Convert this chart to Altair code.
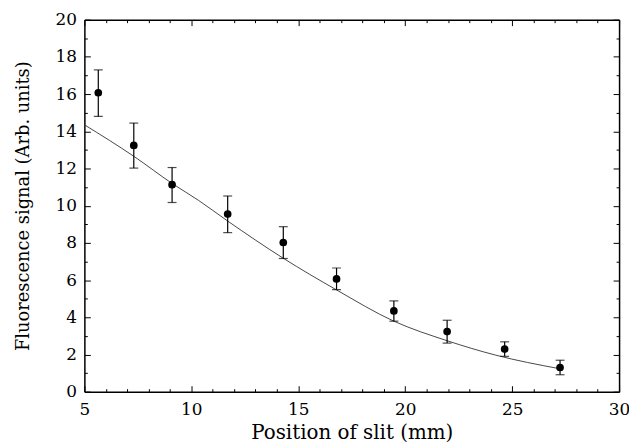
import altair as alt
import pandas as pd

# measured points (position of slit, mm) and signal with error-bar extents
pos = [5.65, 7.31, 9.10, 11.70, 14.30, 16.79, 19.47, 21.96, 24.65, 27.24]
sig = [16.07, 13.24, 11.13, 9.55, 8.02, 6.06, 4.34, 3.23, 2.29, 1.30]
err_hi = [17.30, 14.44, 12.05, 10.52, 8.87, 6.65, 4.88, 3.84, 2.68, 1.69]
err_lo = [14.80, 12.02, 10.17, 8.55, 7.16, 5.49, 3.79, 2.61, 1.90, 0.91]

# fitted curve
fit_pos = [5.0, 7.33, 9.12, 10.33, 11.68, 14.29, 16.79, 19.47, 21.96, 24.21, 27.24]
fit_sig = [14.35, 12.64, 11.18, 10.29, 9.19, 7.18, 5.47, 3.79, 2.74, 1.97, 1.23]

x_major = [5, 10, 15, 20, 25, 30]
x_all = list(range(5, 31))
y_major = [0, 2, 4, 6, 8, 10, 12, 14, 16, 18, 20]
y_all = list(range(0, 21))

pts = pd.DataFrame({"p": pos, "s": sig, "hi": err_hi, "lo": err_lo})
fit = pd.DataFrame({"p": fit_pos, "s": fit_sig})

FONT = "DejaVu Serif"
W, H = 539, 375
xsc = alt.Scale(domain=[5, 30], nice=False, zero=False)
ysc = alt.Scale(domain=[0, 20], nice=False, zero=False)

x_tick = {"condition": {"test": "datum.value % 5 === 0", "value": 6}, "value": 3}
y_tick = {"condition": {"test": "datum.value % 2 === 0", "value": 6}, "value": 3}

ax_x_main = alt.Axis(orient="bottom", values=x_major, tickSize=0, labelFont=FONT,
                     labelFontSize=17, labelColor="black", labelPadding=10,
                     labelFlush=False, title="Position of slit (mm)", titleFont=FONT,
                     titleFontSize=20, titleFontWeight="normal", titleColor="black",
                     titlePadding=5, domainColor="black", domainWidth=1.5, grid=False)
ax_y_main = alt.Axis(orient="left", values=y_major, tickSize=0, labelFont=FONT,
                     labelFontSize=17, labelColor="black", labelPadding=8,
                     labelFlush=False, title="Fluorescence signal (Arb. units)",
                     titleFont=FONT, titleFontSize=18, titleFontWeight="normal",
                     titleColor="black", titlePadding=23, domainColor="black",
                     domainWidth=1.5, grid=False)
ax_x_in_bottom = alt.Axis(orient="top", offset=-H, values=x_all, tickSize=x_tick,
                          tickColor="black", tickWidth=1, labels=False, domain=False,
                          title="", grid=False)
ax_x_in_top = alt.Axis(orient="bottom", offset=-H, values=x_all, tickSize=x_tick,
                       tickColor="black", tickWidth=1, labels=False, domain=True,
                       domainColor="black", domainWidth=1.5, title="", grid=False)
ax_y_in_left = alt.Axis(orient="right", offset=-W, values=y_all, tickSize=y_tick,
                        tickColor="black", tickWidth=1, labels=False, domain=False,
                        title="", grid=False)
ax_y_in_right = alt.Axis(orient="left", offset=-W, values=y_all, tickSize=y_tick,
                         tickColor="black", tickWidth=1, labels=False, domain=True,
                         domainColor="black", domainWidth=1.5, title="", grid=False)

line = alt.Chart(fit).mark_line(color="#333333", strokeWidth=0.9,
                                interpolate="monotone").encode(
    x=alt.X("p:Q", scale=xsc, axis=ax_x_main),
    y=alt.Y("s:Q", scale=ysc, axis=ax_y_main),
)
bars = alt.Chart(pts).mark_rule(color="black", strokeWidth=1.2).encode(
    x=alt.X("p:Q", scale=xsc, axis=ax_x_in_bottom),
    y=alt.Y("lo:Q", scale=ysc, axis=ax_y_in_left),
    y2="hi:Q",
)
dots = alt.Chart(pts).mark_circle(color="black", opacity=1, size=60).encode(
    x=alt.X("p:Q", scale=xsc, axis=ax_x_in_top),
    y=alt.Y("s:Q", scale=ysc, axis=ax_y_in_right),
)
cap_lo = alt.Chart(pts).mark_tick(color="black", orient="horizontal", size=9,
                                  thickness=1.2).encode(
    x=alt.X("p:Q", scale=xsc, axis=None),
    y=alt.Y("lo:Q", scale=ysc, axis=None),
)
cap_hi = alt.Chart(pts).mark_tick(color="black", orient="horizontal", size=9,
                                  thickness=1.2).encode(
    x=alt.X("p:Q", scale=xsc, axis=None),
    y=alt.Y("hi:Q", scale=ysc, axis=None),
)

chart = alt.layer(line, bars, cap_lo, cap_hi, dots).resolve_axis(
    x="independent", y="independent"
).properties(
    width=W, height=H,
    autosize=alt.AutoSizeParams(type="none"),
    padding={"left": 77, "top": 10, "right": 10, "bottom": 52},
    background="white",
).configure(
    font=FONT
).configure_view(stroke=None)

chart.save("out.html", embed_options={"renderer": "svg", "actions": False})
